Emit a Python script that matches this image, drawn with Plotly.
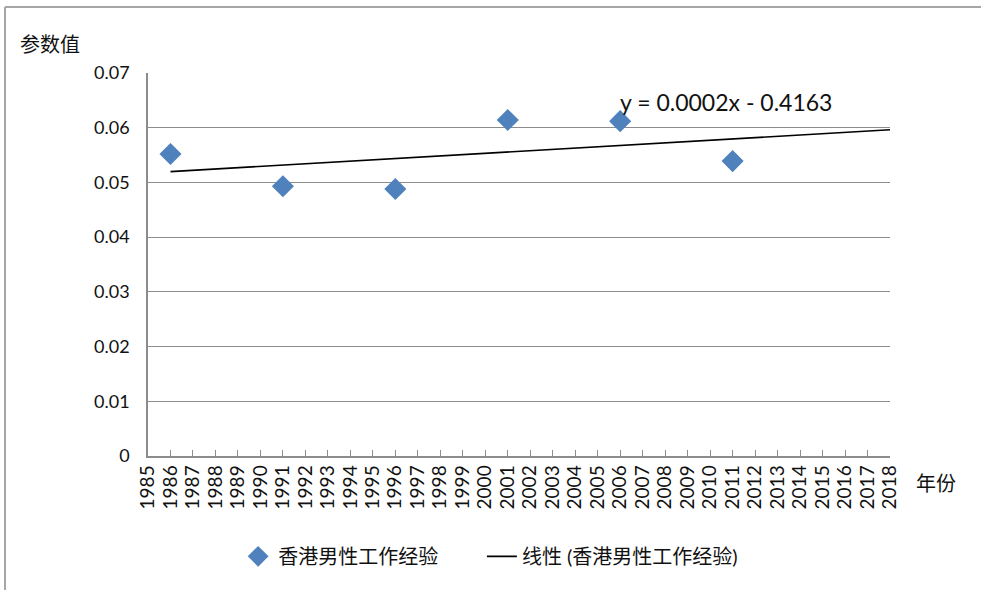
import numpy as np
import plotly.graph_objects as go

years = [1986, 1991, 1996, 2001, 2006, 2011]
values = [0.0552, 0.0493, 0.0488, 0.0614, 0.0612, 0.0539]
series_name = "香港男性工作经验"
trend_name = "线性 (香港男性工作经验)"
equation = "y = 0.0002x - 0.4163"
y_ticks = [0, 0.01, 0.02, 0.03, 0.04, 0.05, 0.06, 0.07]
y_ticktext = ["0", "0.01", "0.02", "0.03", "0.04", "0.05", "0.06", "0.07"]
x_years = list(range(1985, 2019))

slope, intercept = np.polyfit(years, values, 1)
trend_x = [years[0], x_years[-1]]
trend_y = [slope * x + intercept for x in trend_x]

FONT = "Lato, 'Noto Sans CJK SC', sans-serif"
GRID = "#8c8c8c"

fig = go.Figure()
fig.add_trace(go.Scatter(
    x=years, y=values, mode="markers", name=series_name, legend="legend",
    marker=dict(symbol="diamond", size=17, color="#4F81BD",
                line=dict(width=0)),
))
fig.add_trace(go.Scatter(
    x=trend_x, y=trend_y, mode="lines", name=trend_name, legend="legend2",
    line=dict(color="black", width=1.6),
))

fig.update_layout(
    width=981, height=590,
    margin=dict(l=148, r=91, t=73, b=134),
    paper_bgcolor="white", plot_bgcolor="white",
    font=dict(family=FONT, size=18, color="#111"),
    showlegend=True,
    legend=dict(orientation="h", x=0.1215, xanchor="left", y=-0.262,
                yanchor="middle", font=dict(size=20, family=FONT)),
    legend2=dict(orientation="h", x=0.450, xanchor="left", y=-0.262,
                 yanchor="middle", font=dict(size=20, family=FONT)),
    xaxis=dict(range=[1985, 2018], tickmode="array", tickvals=x_years,
               ticktext=[str(y) for y in x_years], tickangle=-90,
               ticks="inside", ticklen=6, tickcolor=GRID,
               showline=True, linecolor=GRID, linewidth=1.5,
               showgrid=False, zeroline=False,
               tickfont=dict(size=19)),
    yaxis=dict(range=[0, 0.07], tickmode="array", tickvals=y_ticks,
               ticktext=y_ticktext, showline=True, linecolor=GRID,
               linewidth=1.5, showgrid=True, gridcolor=GRID, gridwidth=1.2,
               zeroline=False, ticks="", ticklabelstandoff=13,
               tickfont=dict(size=18)),
    annotations=[
        dict(text=equation, xref="paper", yref="paper", x=0.633, y=0.925,
             xanchor="left", yanchor="middle", showarrow=False,
             font=dict(size=23, family=FONT, color="#111")),
        dict(text="参数值", xref="paper", yref="paper", x=-0.175, y=1.075,
             xanchor="left", yanchor="middle", showarrow=False,
             font=dict(size=20, family=FONT, color="#111")),
        dict(text="年份", xref="paper", yref="paper", x=1.033, y=-0.07,
             xanchor="left", yanchor="middle", showarrow=False,
             font=dict(size=20, family=FONT, color="#111")),
    ],
    shapes=[
        dict(type="line", xref="paper", yref="paper", x0=-0.1927, x1=1.3,
             y0=1.1723, y1=1.1723, line=dict(color="#a6a6a6", width=2)),
        dict(type="line", xref="paper", yref="paper", x0=-0.1927, x1=-0.1927,
             y0=1.1723, y1=-0.4, line=dict(color="#a6a6a6", width=2)),
    ],
)

fig.write_html("out.html", config={"displayModeBar": False},
               post_script="document.body.style.margin='0';document.body.style.overflow='hidden';")
